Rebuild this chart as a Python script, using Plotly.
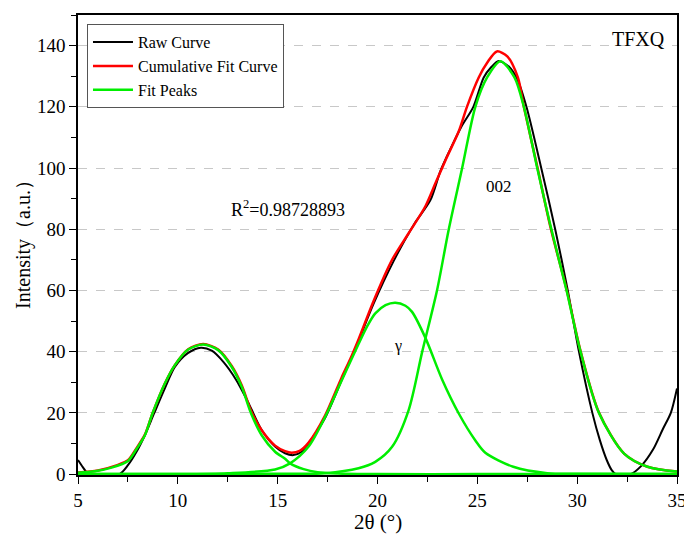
import plotly.graph_objects as go

# ---- data ----
raw_x = [5.0, 5.25, 5.53, 6.3, 7.08, 7.5, 7.93, 8.35, 8.81, 9.35, 9.85, 10.5, 11.15, 11.7, 12.3,
         12.9, 13.4, 13.7, 14.2, 14.87, 15.37, 15.79, 16.2, 16.54, 17.38, 18.2, 18.63, 19.05, 19.8,
         20.8, 21.82, 22.65, 23.15, 23.6, 24.2, 24.8, 25.32, 25.7, 26.06, 26.6, 27.0, 27.46, 28.2,
         28.9, 29.53, 30.09, 30.76, 31.14, 31.48, 31.73, 31.93, 32.3, 32.68, 33.2, 33.8, 34.3,
         34.69, 35.0]
raw_y = [4.6, 2.2, 0.0, 0.0, 0.0, 2.9, 7.3, 12.7, 19.8, 28.0, 35.0, 39.5, 41.3, 40.3, 36.5,
         31.0, 25.0, 21.0, 14.4, 9.0, 6.8, 6.2, 7.3, 10.0, 18.4, 30.6, 37.0, 43.5, 55.6,
         69.5, 81.5, 89.5, 99.0, 105.5, 113.5, 120.0, 129.6, 133.0, 135.0, 133.0, 129.0, 120.0, 100.0,
         80.0, 60.0, 40.0, 20.0, 11.0, 4.6, 1.3, 0.0, 0.0, 0.0, 2.6, 8.0, 14.8,
         20.0, 28.0]

cum_x = [5.0, 6.0, 7.0, 7.5, 7.93, 8.35, 8.73, 9.35, 9.85, 10.52, 11.27, 12.02, 12.7, 13.2,
         13.67, 14.2, 14.87, 15.37, 15.7, 16.1, 16.54, 17.38, 18.2, 18.63, 19.05, 19.8, 20.73,
         21.56, 22.4, 22.9, 23.4, 24.07, 24.48, 25.07, 25.5, 25.98, 26.5, 27.03, 27.33, 28.0,
         28.67, 29.47, 30.17, 31.09, 32.35, 33.52, 35.0]
cum_y = [0.5, 1.2, 3.0, 4.5, 8.5, 12.9, 19.8, 29.6, 35.6, 40.8, 42.5, 40.7, 35.3, 29.0,
         20.6, 14.3, 9.3, 7.5, 7.0, 7.6, 10.2, 19.2, 31.5, 37.5, 44.0, 56.5, 70.0,
         78.7, 87.5, 95.0, 102.5, 112.0, 120.0, 129.6, 134.5, 138.1, 136.5, 129.6, 120.0, 100.5,
         80.5, 60.3, 40.2, 20.1, 6.7, 2.4, 0.8]

peak1_x = [5.0, 5.84, 6.68, 7.5, 7.93, 8.35, 8.73, 9.35, 9.85, 10.52, 11.27, 12.02, 12.7, 13.2,
           13.67, 14.2, 14.87, 15.37, 15.62, 16.3, 17.0, 18.0, 20.0, 25.0, 30.0, 35.0]
peak1_y = [0.4, 0.9, 2.1, 4.3, 8.2, 12.7, 19.8, 29.6, 35.6, 40.7, 42.3, 40.5, 35.0, 28.5,
           19.8, 12.7, 7.3, 5.0, 3.5, 1.6, 0.6, 0.2, 0.0, 0.0, 0.0, 0.0]

peak2_x = [5.0, 10.0, 12.5, 14.87, 15.62, 16.54, 17.38, 18.2, 19.05, 19.5, 19.89, 20.4, 20.89,
           21.4, 21.73, 22.4, 23.23, 24.07, 24.9, 25.4, 26.8, 28.5, 30.0, 35.0]
peak2_y = [0.0, 0.0, 0.3, 1.5, 3.5, 8.9, 18.7, 30.5, 42.5, 48.5, 52.5, 55.2, 56.0,
           55.0, 53.0, 44.5, 31.0, 19.8, 11.0, 7.0, 2.4, 0.3, 0.1, 0.0]

peak3_x = [5.0, 10.0, 15.0, 17.38, 19.05, 19.89, 20.73, 21.56, 22.24, 22.98, 23.57, 24.24,
           24.9, 25.49, 26.16, 26.86, 27.33, 28.0, 28.65, 29.47, 30.17, 31.09, 32.35, 33.52, 35.0]
peak3_y = [0.0, 0.0, 0.1, 0.3, 1.9, 4.0, 8.9, 20.9, 40.0, 60.0, 80.0, 100.0,
           120.0, 129.6, 134.9, 129.6, 120.0, 100.0, 81.5, 60.0, 40.0, 20.0, 6.7, 2.4, 0.8]

x_ticks = [5, 10, 15, 20, 25, 30, 35]
y_ticks = [0, 20, 40, 60, 80, 100, 120, 140]

FONT = "Times New Roman, Liberation Serif, serif"
GREEN = "#00ee00"

fig = go.Figure()
fig.add_trace(go.Scatter(x=raw_x, y=raw_y, mode="lines", name="Raw Curve",
                         line=dict(color="black", width=2, shape="spline", smoothing=0.8)))
fig.add_trace(go.Scatter(x=cum_x, y=cum_y, mode="lines", name="Cumulative Fit Curve",
                         line=dict(color="#ff0000", width=2.5, shape="spline", smoothing=0.8)))
fig.add_trace(go.Scatter(x=peak1_x, y=peak1_y, mode="lines", name="Fit Peaks",
                         line=dict(color=GREEN, width=2.5, shape="spline", smoothing=0.8)))
fig.add_trace(go.Scatter(x=peak2_x, y=peak2_y, mode="lines", name="Fit Peaks", showlegend=False,
                         line=dict(color=GREEN, width=2.5, shape="spline", smoothing=0.8)))
fig.add_trace(go.Scatter(x=peak3_x, y=peak3_y, mode="lines", name="Fit Peaks", showlegend=False,
                         line=dict(color=GREEN, width=2.5, shape="spline", smoothing=0.8)))

fig.add_annotation(x=33.08, y=142.2, text="TFXQ", showarrow=False,
                   font=dict(family=FONT, size=20, color="black"))
fig.add_annotation(x=15.52, y=86.8, text="R<sup>2</sup>=0.98728893", showarrow=False,
                   font=dict(family=FONT, size=18, color="black"))
fig.add_annotation(x=26.06, y=94.0, text="002", showarrow=False,
                   font=dict(family=FONT, size=17, color="black"))
fig.add_annotation(x=21.04, y=42.0, text="γ", showarrow=False,
                   font=dict(family=FONT, size=16, color="black"))

# axis titles as paper-positioned annotations
fig.add_annotation(xref="paper", yref="paper", x=-0.092, y=0.513, text="Intensity（a.u.）",
                   textangle=-90, showarrow=False, xanchor="center", yanchor="middle",
                   font=dict(family=FONT, size=20, color="black"))
fig.add_annotation(xref="paper", yref="paper", x=0.5, y=-0.102, text="2θ (°)",
                   showarrow=False, xanchor="center", yanchor="middle",
                   font=dict(family=FONT, size=21, color="black"))

fig.update_layout(
    width=684, height=541,
    margin=dict(l=78, r=7, t=15, b=66),
    paper_bgcolor="white", plot_bgcolor="white",
    font=dict(family=FONT, size=18, color="black"),
    showlegend=True,
    legend=dict(x=0.015, y=0.98, xanchor="left", yanchor="top",
                bgcolor="white", bordercolor="#555555", borderwidth=1,
                font=dict(family=FONT, size=16, color="black"),
                tracegroupgap=0, itemwidth=40),
    xaxis=dict(range=[5, 35], tickmode="array", tickvals=x_ticks,
               ticktext=[str(v) for v in x_ticks], automargin=False,
               ticklabeloverflow="allow",
               showline=True, linecolor="black", linewidth=1.5, mirror=True,
               ticks="outside", ticklen=7, tickwidth=1.2, tickcolor="black",
               minor=dict(dtick=2.5, ticks="outside", ticklen=5, tickcolor="black", tickwidth=1.2),
               showgrid=False, zeroline=False,
               tickfont=dict(family=FONT, size=19)),
    yaxis=dict(range=[-0.3, 150], tickmode="array", tickvals=y_ticks,
               ticktext=[str(v) for v in y_ticks], automargin=False,
               showline=True, linecolor="black", linewidth=1.5, mirror=True,
               ticks="outside", ticklen=7, tickwidth=1.2, tickcolor="black",
               minor=dict(dtick=10, ticks="outside", ticklen=5, tickcolor="black", tickwidth=1.2,
                          showgrid=False),
               showgrid=True, gridcolor="#c8c8c8", griddash="dash", gridwidth=1,
               zeroline=False,
               tickfont=dict(family=FONT, size=19)),
)

fig.write_html("out.html", config={"displayModeBar": False},
               post_script="document.body.style.margin='0';document.body.style.overflow='hidden';")
